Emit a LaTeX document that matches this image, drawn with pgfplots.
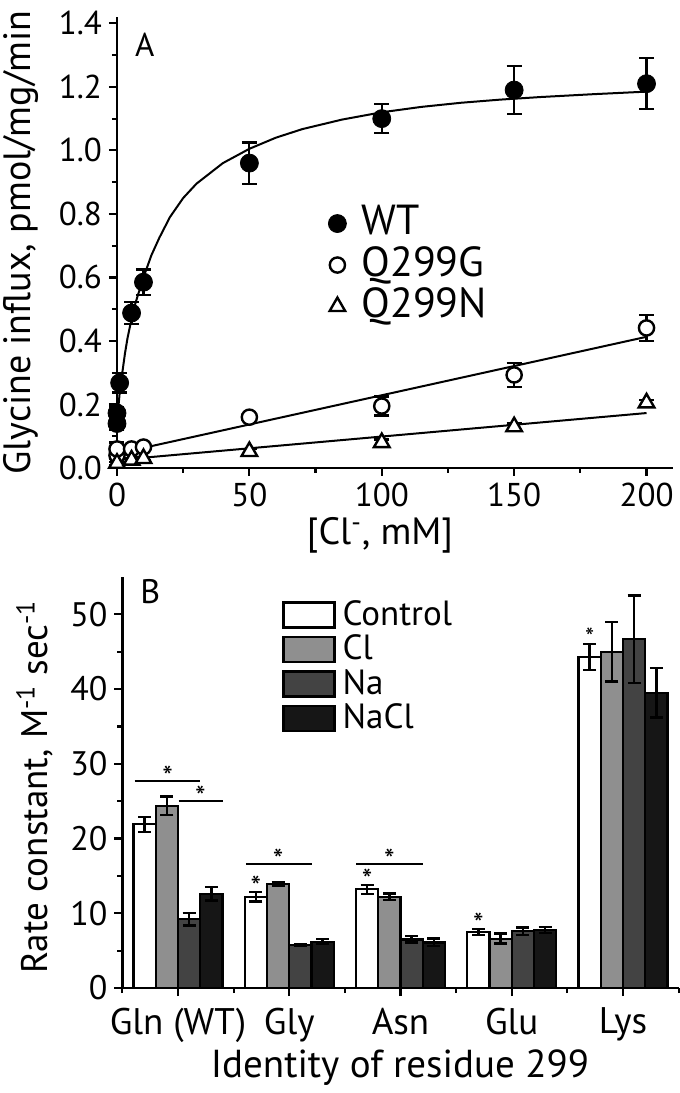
\documentclass[border=0pt]{standalone}
\usepackage{fontspec}
\setmainfont{PT Sans}
\usepackage{pgfplots}
\pgfplotsset{compat=1.18}
\usepackage{pgfplotstable}

\definecolor{clgray}{HTML}{8F8F8F}
\definecolor{nagray}{HTML}{434343}
\definecolor{naclgray}{HTML}{161616}

% Panel A data: x y err
\pgfplotstableread{
x y e
0 0.140 0.020
0 0.173 0.020
1 0.268 0.030
5.5 0.488 0.035
10 0.585 0.040
50 0.960 0.065
100 1.100 0.046
150 1.190 0.075
200 1.210 0.080
}\wt
\pgfplotstableread{
x y e
0 0.040 0.010
0 0.060 0.020
5.5 0.060 0.010
10 0.066 0.010
50 0.160 0.010
100 0.195 0.030
150 0.293 0.038
200 0.441 0.040
}\qg
\pgfplotstableread{
x y e
0 0.015 0.005
5.5 0.025 0.005
10 0.030 0.005
50 0.052 0.008
100 0.080 0.010
150 0.130 0.010
200 0.205 0.010
}\qn
% fitted curves
\pgfplotstableread{
x y
0 0.140
0.5 0.190
1 0.235
2 0.300
3 0.360
4 0.410
5 0.450
7 0.520
10 0.600
13 0.670
16 0.725
20 0.790
25 0.850
30 0.895
40 0.960
50 1.005
60 1.040
70 1.067
85 1.097
100 1.120
115 1.137
130 1.150
145 1.160
160 1.168
180 1.177
200 1.185
}\wtfit
\pgfplotstableread{
x y
0 0.045
200 0.413
}\qgfit
\pgfplotstableread{
x y
0 0.025
200 0.173
}\qnfit

% Panel B data: category y err
\pgfplotstableread{
x y e
0 21.9 1.00
1 12.2 0.65
2 13.2 0.60
3 7.5 0.38
4 44.3 1.75
}\ctrl
\pgfplotstableread{
x y e
0 24.4 1.25
1 13.9 0.25
2 12.2 0.45
3 6.6 0.67
4 45.0 4.00
}\cl
\pgfplotstableread{
x y e
0 9.2 0.85
1 5.75 0.05
2 6.5 0.42
3 7.6 0.50
4 46.7 5.85
}\na
\pgfplotstableread{
x y e
0 12.6 0.90
1 6.2 0.33
2 6.1 0.50
3 7.75 0.40
4 39.5 3.30
}\nacl

\begin{document}
\begin{tikzpicture}
\useasboundingbox (0,0) rectangle (340pt,546.5pt);
% ---------------- Panel A ----------------
\begin{axis}[
  at={(58.5pt,312.5pt)}, anchor=south west, scale only axis,
  width=278pt, height=225.5pt,
  xmin=0, xmax=210, ymin=0, ymax=1.42,
  clip=false,
  axis lines*=left,
  axis line style={line width=1.2pt,-},
  tick align=outside, major tick length=4pt, minor tick length=2.5pt,
  every tick/.style={black, line width=1.1pt},
  xtick={0,50,100,150,200}, minor x tick num=1,
  ytick={0,0.2,0.4,0.6,0.8,1.0,1.2,1.4}, minor y tick num=1,
  yticklabel style={/pgf/number format/.cd, fixed, fixed zerofill, precision=1},
  /pgf/number format/assume math mode=true,
  tick label style={font=\fontsize{16.5}{18}\selectfont},
  xticklabel style={text depth=0pt},
  xlabel={[Cl\textsuperscript{-}, mM]},
  ylabel={Glycine influx, pmol/mg/min},
  label style={font=\fontsize{19}{21}\selectfont},
  xlabel style={at={(axis description cs:0.473,0)}, anchor=center, yshift=-33.5pt},
  ylabel style={at={(axis description cs:-0.173,0.5)}, anchor=center},
  legend style={at={(axis description cs:0.3795,0.45)}, anchor=west,
    draw=none, fill=none, inner sep=0pt, row sep=0pt,
    font=\fontsize{21}{23}\selectfont,
    nodes={inner sep=1pt, text height=15pt, text depth=3.75pt},
    /tikz/every odd column/.append style={column sep=6.5pt}},
  legend cell align=left,
  error bars/error bar style={line width=1.1pt, black},
  error bars/error mark options={rotate=90, mark size=3.75pt, line width=1.1pt, black},
]
\addplot[black, line width=1pt, forget plot] table[x=x,y=y]{\wtfit};
\addplot[black, line width=1pt, forget plot] table[x=x,y=y]{\qgfit};
\addplot[black, line width=1pt, forget plot] table[x=x,y=y]{\qnfit};
\addplot[only marks, mark=*, mark size=4.5pt, black,
  error bars/.cd, y dir=both, y explicit]
  table[x=x,y=y,y error=e]{\wt};
\addplot[only marks, mark=*, mark size=3.8pt, black,
  mark options={fill=white, line width=1.2pt},
  error bars/.cd, y dir=both, y explicit]
  table[x=x,y=y,y error=e]{\qg};
\addplot[only marks, mark=triangle*, mark size=4.5pt, black,
  mark options={fill=white, line width=1.2pt},
  error bars/.cd, y dir=both, y explicit]
  table[x=x,y=y,y error=e]{\qn};
\legend{WT,Q299G,Q299N}
\node[font=\fontsize{16.5}{18}\selectfont] at (axis description cs:0.05,0.938) {A};
\end{axis}

% ---------------- Panel B ----------------
\begin{axis}[
  at={(61.2pt,52.5pt)}, anchor=south west, scale only axis,
  width=278.1pt, height=205.5pt,
  xmin=-0.5, xmax=4.5, ymin=0, ymax=55,
  ybar, bar width=0.2,
  axis lines*=left,
  axis line style={line width=1.2pt,-},
  tick align=outside, major tick length=4pt, minor tick length=2.5pt,
  every tick/.style={black, line width=1.1pt},
  xtick={0,1,2,3,4},
  xticklabels={Gln (WT),Gly,Asn,Glu,Lys},
  minor xtick={-0.5,0.5,1.5,2.5,3.5,4.5},
  ytick={0,10,20,30,40,50}, minor y tick num=1,
  /pgf/number format/assume math mode=true,
  yticklabel style={font=\fontsize{17}{19}\selectfont},
  xticklabel style={font=\fontsize{18.5}{20}\selectfont, yshift=-2.5pt},
  xlabel={Identity of residue 299},
  ylabel={Rate constant, M\textsuperscript{-1} sec\textsuperscript{-1}},
  xlabel style={font=\fontsize{19.5}{21}\selectfont, at={(axis description cs:0.499,0)}, anchor=center, yshift=-40pt},
  ylabel style={font=\fontsize{18.5}{20}\selectfont, at={(axis description cs:-0.158,0.489)}, anchor=center},
  legend style={at={(axis description cs:0.287,0.7815)}, anchor=west,
    draw=none, fill=none, inner sep=0pt, row sep=0.5pt,
    font=\fontsize{17.5}{19}\selectfont,
    nodes={inner sep=1pt, text height=12.5pt, text depth=2.25pt},
    /tikz/every odd column/.append style={column sep=2.5pt}},
  legend cell align=left,
  legend image code/.code={\draw[#1, line width=1.1pt] (0pt,-6.25pt) rectangle (25.5pt,6.25pt);},
  error bars/error bar style={line width=1.2pt, black},
  error bars/error mark options={rotate=90, mark size=3.25pt, line width=1.2pt, black},
]
\addplot[bar shift=-0.3, fill=white, draw=black, line width=1.1pt,
  error bars/.cd, y dir=both, y explicit]
  table[x=x,y=y,y error=e]{\ctrl};
\addplot[bar shift=-0.1, fill=clgray, draw=black, line width=1.1pt,
  error bars/.cd, y dir=both, y explicit]
  table[x=x,y=y,y error=e]{\cl};
\addplot[bar shift=0.1, fill=nagray, draw=black, line width=1.1pt,
  error bars/.cd, y dir=both, y explicit]
  table[x=x,y=y,y error=e]{\na};
\addplot[bar shift=0.3, fill=naclgray, draw=black, line width=1.1pt,
  error bars/.cd, y dir=both, y explicit]
  table[x=x,y=y,y error=e]{\nacl};
\legend{Control,Cl,Na,NaCl}
% significance annotations
\draw[line width=1.2pt] (axis cs:-0.39,27.7) -- (axis cs:0.20,27.7);
\draw[line width=1.2pt] (axis cs:0.006,25.0) -- (axis cs:0.40,25.0);
\draw[line width=1.2pt] (axis cs:0.61,16.6) -- (axis cs:1.20,16.6);
\draw[line width=1.2pt] (axis cs:1.604,16.6) -- (axis cs:2.203,16.6);
\node[font=\fontsize{15}{15}\selectfont, inner sep=0pt] at (axis cs:-0.094,28.3) {*};
\node[font=\fontsize{15}{15}\selectfont, inner sep=0pt] at (axis cs:0.20,25.6) {*};
\node[font=\fontsize{15}{15}\selectfont, inner sep=0pt] at (axis cs:0.90,17.2) {*};
\node[font=\fontsize{15}{15}\selectfont, inner sep=0pt] at (axis cs:1.90,17.2) {*};
\node[font=\fontsize{15}{15}\selectfont, inner sep=0pt] at (axis cs:0.70,13.6) {*};
\node[font=\fontsize{15}{15}\selectfont, inner sep=0pt] at (axis cs:1.70,14.5) {*};
\node[font=\fontsize{15}{15}\selectfont, inner sep=0pt] at (axis cs:2.70,8.6) {*};
\node[font=\fontsize{13}{13}\selectfont, inner sep=0pt] at (axis cs:3.70,46.9) {*};
\node[font=\fontsize{17}{18}\selectfont] at (axis description cs:0.05,0.964) {B};
\end{axis}
\end{tikzpicture}
\end{document}
